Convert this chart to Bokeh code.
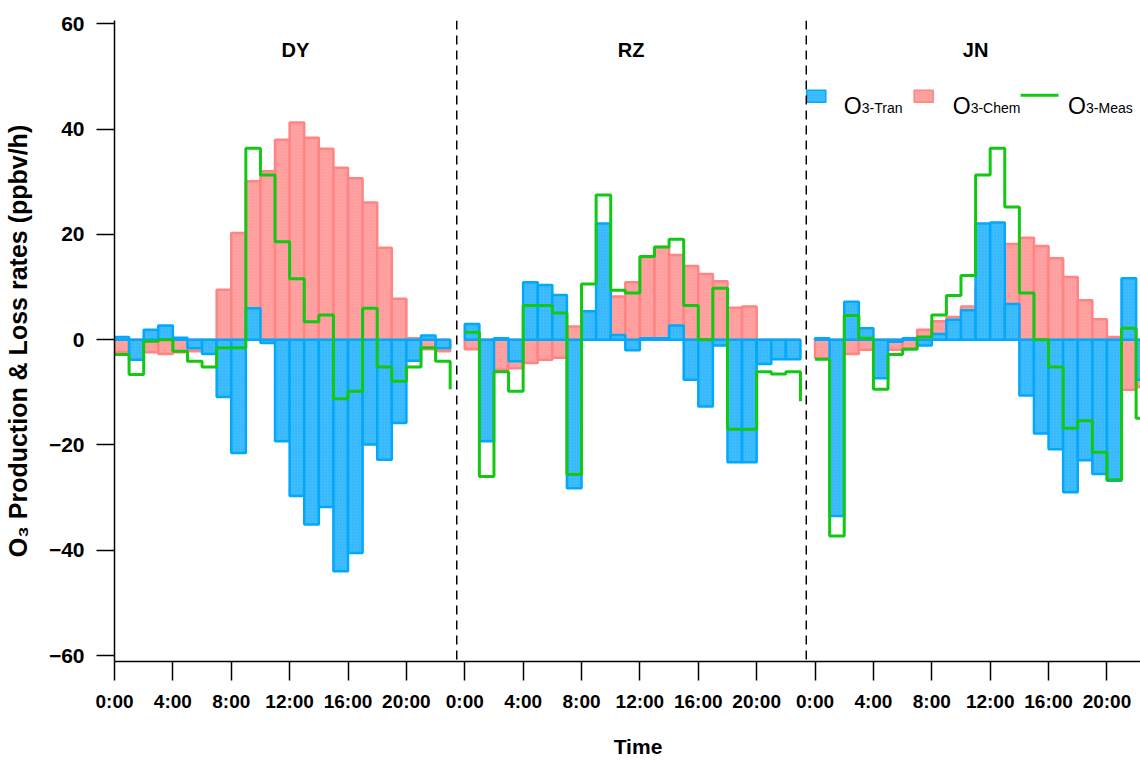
import math
from bokeh.plotting import figure
from bokeh.models import Span, Label, FixedTicker, ColumnDataSource
from bokeh.embed import file_html
from bokeh.resources import INLINE

# ---------------- data (ppbv/h), hourly, three sites ----------------
sites = ["DY", "RZ", "JN"]
day_offsets = [0, 24, 48]
bar_hours = list(range(23))          # hourly bars 0:00 .. 22:00
meas_hours = list(range(24))         # measured series 0:00 .. 23:00

tran_DY = [0.5, -3.8, 1.9, 2.7, 0.4, -1.6, -2.7, -10.9, -21.5, 6.0, -0.6, -19.3,
           -29.7, -35.1, -31.8, -44.0, -40.5, -19.9, -22.8, -15.8, -4.0, 0.8, -1.6]
chem_DY = [-2.4, -2.0, -2.4, -2.7, -2.4, -2.2, -1.0, 9.5, 20.3, 30.1, 32.0, 38.0,
           41.3, 38.4, 36.3, 32.7, 30.7, 26.1, 17.5, 7.8, 0.3, -1.8, -2.2]
meas_DY = [-2.8, -6.6, -0.3, 0.0, -2.2, -4.1, -5.2, -1.5, -1.5, 36.4, 31.3, 18.6,
           11.6, 3.4, 4.7, -11.2, -9.8, 6.0, -5.2, -7.9, -5.2, -1.5, -4.1, -9.4]

tran_RZ = [3.0, -19.3, 0.3, -4.1, 10.9, 10.4, 8.5, -28.2, 5.4, 22.1, 0.9, -2.0,
           0.3, 0.3, 2.7, -7.6, -12.7, -1.1, -23.3, -23.3, -4.6, -3.7, -3.7]
chem_RZ = [-1.8, -3.0, -5.7, -5.4, -4.4, -3.8, -3.4, 2.5, 3.0, 5.0, 8.2, 10.9,
           15.7, 17.6, 16.1, 14.0, 12.5, 11.1, 6.1, 6.3, 0.0, 0.0, 0.0]
meas_RZ = [1.4, -26.0, -6.1, -9.8, 6.5, 6.5, 5.1, -25.6, 10.6, 27.5, 9.4, 8.9,
           15.8, 17.6, 19.1, 6.5, 0.0, 9.8, -17.0, -17.0, -6.1, -6.5, -6.1, -11.7]

tran_JN = [0.3, -33.5, 7.2, 2.2, -7.3, -0.4, 0.3, -1.1, 1.1, 3.8, 5.6, 22.1,
           22.3, 6.8, -10.6, -17.8, -20.8, -29.0, -22.9, -25.5, -26.8, 11.7, -7.6]
chem_JN = [-3.5, -2.0, -2.7, -1.9, -1.0, -1.9, -1.6, 1.9, 3.5, 4.3, 6.3, 10.0,
           14.0, 18.2, 19.4, 17.8, 15.5, 11.9, 7.5, 3.9, 0.5, -9.5, -9.0]
meas_JN = [-3.7, -37.3, 4.6, 0.3, -9.4, -2.8, -1.8, 0.5, 4.7, 8.4, 12.2, 31.3,
           36.4, 25.2, 8.9, 0.0, -5.2, -16.8, -15.4, -21.4, -26.6, 2.2, -14.9, -16.0]

tran = [tran_DY, tran_RZ, tran_JN]
chem = [chem_DY, chem_RZ, chem_JN]
meas = [meas_DY, meas_RZ, meas_JN]

tick_hours = [0, 4, 8, 12, 16, 20, 24, 28, 32, 36, 40, 44, 48, 52, 56, 60, 64, 68]
tick_labels = ["0:00", "4:00", "8:00", "12:00", "16:00", "20:00"] * 3
y_ticks = [-60, -40, -20, 0, 20, 40, 60]
site_label_hours = [12.4, 35.4, 59.0]
separator_hours = [23.45, 47.4]

# ---------------- layout ----------------
W, H = 1140, 760
LEFT, RIGHT, TOP, BOTTOM = 113, 0, 20, 97
X0, X1 = 0.0, 70.3
Y0, Y1 = -61.14, 60.66
FW = W - LEFT - RIGHT
FH = H - TOP - BOTTOM

def px_x(px):
    return X0 + (px - LEFT) * (X1 - X0) / FW

def px_y(py):
    return Y1 - (py - TOP) * (Y1 - Y0) / FH

FONT = "Liberation Sans"
BLUE_FILL, BLUE_LINE, BLUE_HATCH = "#3fbdff", "#03a8fa", "#1aa4ee"
RED_FILL, RED_LINE, RED_HATCH = "#ffa2a2", "#ff8484", "#ff8c8c"
GREEN = "#12c812"

p = figure(width=W, height=H, x_range=(X0, X1), y_range=(Y0, Y1),
           output_backend="svg", toolbar_location=None,
           min_border_left=LEFT, min_border_right=RIGHT,
           min_border_top=TOP, min_border_bottom=BOTTOM)
p.outline_line_color = None
p.xgrid.visible = False
p.ygrid.visible = False
p.background_fill_color = "white"
p.border_fill_color = "white"

# bars
def bar_source(series):
    left, right, top = [], [], []
    for off, vals in zip(day_offsets, series):
        for h, v in zip(bar_hours, vals):
            left.append(off + h)
            right.append(off + h + 1)
            top.append(v)
    return ColumnDataSource(dict(left=left, right=right, top=top, bottom=[0] * len(top)))

p.quad(left="left", right="right", top="top", bottom="bottom", source=bar_source(chem),
       fill_color=RED_FILL, line_color=RED_LINE, line_width=2.5,
       hatch_pattern="dot", hatch_color=RED_HATCH, hatch_scale=3, hatch_weight=1, hatch_alpha=0.6)
p.quad(left="left", right="right", top="top", bottom="bottom", source=bar_source(tran),
       fill_color=BLUE_FILL, line_color=BLUE_LINE, line_width=2.5,
       hatch_pattern="dot", hatch_color=BLUE_HATCH, hatch_scale=3, hatch_weight=1, hatch_alpha=0.6)

for off, vals in zip(day_offsets, meas):
    p.step(x=[off + h for h in meas_hours], y=vals, mode="after",
           line_color=GREEN, line_width=3)

for loc in separator_hours:
    p.add_layout(Span(location=loc, dimension="height", line_color="black",
                      line_width=1.5, line_dash="9 6"))

for name, xh in zip(sites, site_label_hours):
    p.add_layout(Label(x=xh, y=px_y(50), text=name, text_align="center",
                       text_baseline="alphabetic", text_font=FONT,
                       text_font_style="bold", text_font_size="20px", text_color="black"))

# axes
for ax in (p.xaxis, p.yaxis):
    ax.axis_line_width = 1.5
    ax.axis_line_color = "black"
    ax.major_tick_line_width = 1.5
    ax.major_tick_line_color = "black"
    ax.major_tick_in = 0
    ax.minor_tick_in = 0
    ax.minor_tick_out = 0
    ax.major_label_text_font = FONT
    ax.major_label_text_font_style = "bold"
    ax.major_label_text_color = "black"
    ax.axis_label_text_font = FONT
    ax.axis_label_text_font_style = "bold"
    ax.axis_label_text_color = "black"

p.xaxis.ticker = FixedTicker(ticks=tick_hours)
p.xaxis.major_label_overrides = {t: lab for t, lab in zip(tick_hours, tick_labels)}
p.xaxis.major_tick_out = 19
p.xaxis.major_label_standoff = 10
p.xaxis.major_label_text_font_size = "19px"
p.xaxis.axis_label = "\u2002\u2002Time"
p.xaxis.axis_label_text_font_size = "21px"
p.xaxis.axis_label_standoff = 20

p.yaxis.ticker = FixedTicker(ticks=y_ticks)
p.yaxis.major_tick_out = 18
p.yaxis.major_label_standoff = 12
p.yaxis.major_label_text_font_size = "21px"
p.yaxis.axis_label = "O\u2083 Production & Loss rates (ppbv/h)"
p.yaxis.axis_label_text_font_size = "25px"
p.yaxis.axis_label_standoff = 14

# legend (hand-built to allow subscripts)
leg_y = px_y(96)
p.rect(x=[px_x(815.5)], y=[leg_y], width=19, height=12, width_units="screen",
       height_units="screen", fill_color=BLUE_FILL, line_color=BLUE_LINE, line_width=1.5,
       hatch_pattern="dot", hatch_color=BLUE_HATCH, hatch_scale=3, hatch_alpha=0.6)
p.rect(x=[px_x(923)], y=[leg_y], width=19, height=12, width_units="screen",
       height_units="screen", fill_color=RED_FILL, line_color=RED_LINE, line_width=1.5,
       hatch_pattern="dot", hatch_color=RED_HATCH, hatch_scale=3, hatch_alpha=0.6)
p.line(x=[px_x(1020), px_x(1058)], y=[px_y(95), px_y(95)], line_color=GREEN, line_width=3)

legend_items = [(843, "3-Tran"), (952, "3-Chem"), (1067.5, "3-Meas")]
for sx, sub in legend_items:
    p.add_layout(Label(x=px_x(sx), y=px_y(106), text="O", text_align="left",
                       text_baseline="alphabetic", text_font=FONT,
                       text_font_size="23px", text_color="black"))
    p.add_layout(Label(x=px_x(sx + 18), y=px_y(108), text=sub, text_align="left",
                       text_baseline="alphabetic", text_font=FONT,
                       text_font_size="14px", text_color="black"))

open("out.html", "w").write(file_html(p, INLINE))
